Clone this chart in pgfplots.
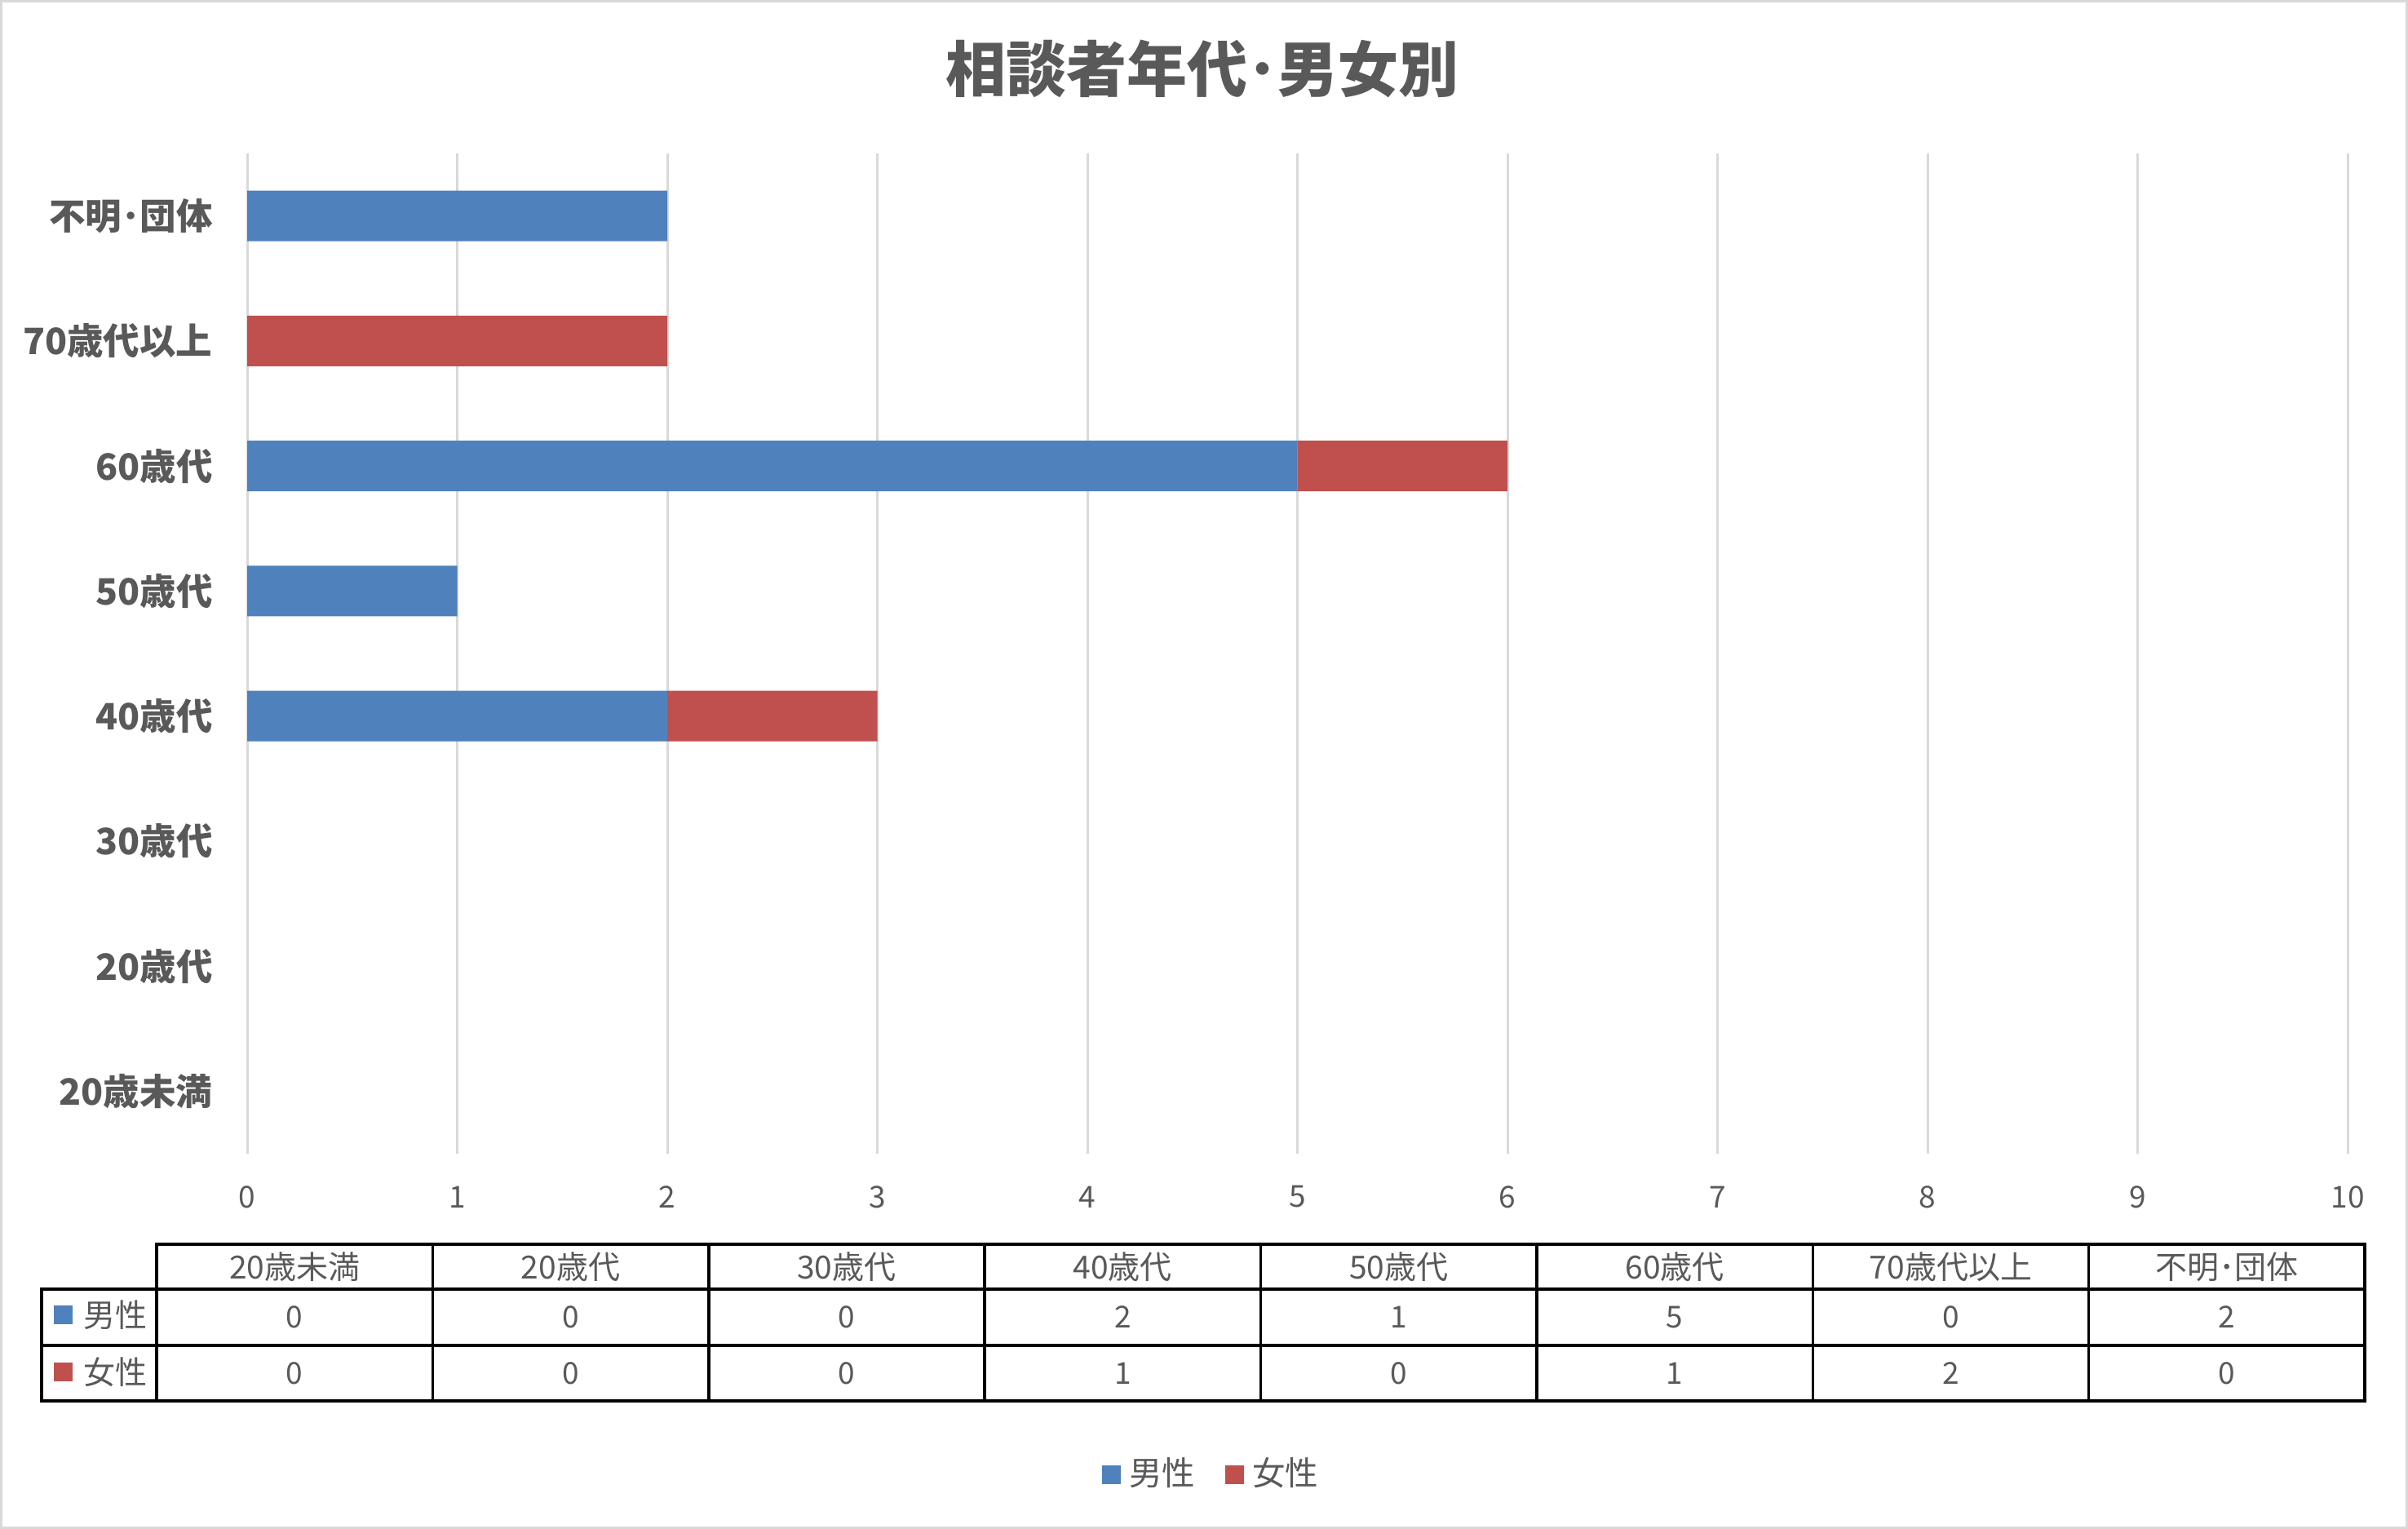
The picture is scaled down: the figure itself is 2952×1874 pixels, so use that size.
\documentclass[border=0pt]{standalone}
\usepackage{fontspec}
\setmainfont{Noto Sans CJK JP}
\usepackage{pgfplots}
\pgfplotsset{compat=1.18}
\definecolor{txt}{HTML}{595959}
\definecolor{gridc}{HTML}{D9D9D9}
\definecolor{male}{HTML}{4F81BD}
\definecolor{female}{HTML}{C0504D}
\begin{document}
\begin{tikzpicture}
% frame, table and title in image-pixel units (1 px = 0.2pt, y downwards)
\begin{scope}[x=0.2pt,y=-0.2pt]
\path[use as bounding box] (0,0) rectangle (2952,1874);
\draw[gridc, line width=0.6pt] (1.5,1.5) rectangle (2950.5,1872.5);
\node[text=txt, font=\bfseries\fontsize{14.8pt}{17pt}\selectfont, inner sep=0pt] at (1474,84) {相談者年代･男女別};
% data table
\begin{scope}[line width=0.7pt, line cap=rect]
\draw (192,1525) -- (2899,1525);
\draw (51,1580) -- (2899,1580);
\draw (51,1649) -- (2899,1649);
\draw (51,1717) -- (2899,1717);
\draw (51,1580) -- (51,1717);
\foreach \k in {0,...,8} {\draw ({192+338.375*\k},1525) -- ({192+338.375*\k},1717);}
\end{scope}
\begin{scope}[every node/.style={text=txt, inner sep=0pt, font=\fontsize{7.8pt}{9pt}\selectfont}]
\foreach \lab [count=\k from 0] in {20歳未満,20歳代,30歳代,40歳代,50歳代,60歳代,70歳代以上,不明･団体}
  {\node at ({192+338.375*(\k+0.5)},1552.5) {\lab};}
\foreach \v [count=\k from 0] in {0,0,0,2,1,5,0,2}
  {\node[font=\fontsize{7.4pt}{9pt}\selectfont] at ({192+338.375*(\k+0.5)},1614.5) {\v};}
\foreach \v [count=\k from 0] in {0,0,0,1,0,1,2,0}
  {\node[font=\fontsize{7.4pt}{9pt}\selectfont] at ({192+338.375*(\k+0.5)},1683) {\v};}
\fill[male] (66,1600) rectangle (89,1623);
\node[anchor=west] at (101,1612) {男性};
\fill[female] (66,1670) rectangle (89,1693);
\node[anchor=west] at (101,1682) {女性};
\end{scope}
\end{scope}
\begin{axis}[
  at={(60.6pt,-282.8pt)}, anchor=south west,
  scale only axis, width=515pt, height=245.2pt,
  xbar stacked, bar width=12.4pt,
  xmin=0, xmax=10, ymin=-0.5, ymax=7.5,
  xtick={0,...,10}, ytick={0,...,7},
  yticklabels={20歳未満,20歳代,30歳代,40歳代,50歳代,60歳代,70歳代以上,不明･団体},
  xmajorgrids, major grid style={color=gridc, line width=0.6pt},
  axis line style={draw=none},
  major tick length=0pt,
  tick label style={text=txt},
  xticklabel style={font=\fontsize{7.4pt}{9pt}\selectfont, anchor=center, yshift=-10.6pt, inner sep=0pt},
  yticklabel style={font=\bfseries\fontsize{8.9pt}{10pt}\selectfont, anchor=east, xshift=-8.3pt, inner sep=0pt},
  /pgf/number format/assume math mode=true,
  legend columns=2,
  legend style={at={(0.4605,-0.3206)}, anchor=center, draw=none, fill=none,
    font=\fontsize{8.1pt}{10pt}\selectfont, text=txt, inner sep=0pt,
    /tikz/every even column/.append style={column sep=5.4pt},
    nodes={inner sep=2pt}},
  legend image code/.code={\fill[#1] (0pt,-2.3pt) rectangle (4.6pt,2.3pt);},
]
\addplot[fill=male, draw=none] coordinates {(0,0) (0,1) (0,2) (2,3) (1,4) (5,5) (0,6) (2,7)};
\addplot[fill=female, draw=none] coordinates {(0,0) (0,1) (0,2) (1,3) (0,4) (1,5) (2,6) (0,7)};
\legend{男性,女性}
\end{axis}
\end{tikzpicture}
\end{document}
